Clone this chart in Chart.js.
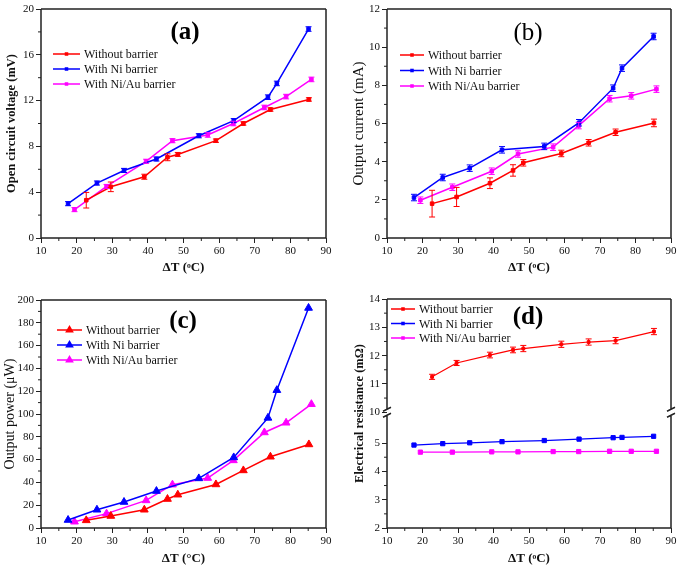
<!DOCTYPE html>
<html>
<head>
<meta charset="utf-8">
<script src="https://cdn.jsdelivr.net/npm/chart.js@4.4.0/dist/chart.umd.min.js"></script>
<style>
body { margin: 0; background: #fff; }
.p { position: absolute; }
</style>
</head>
<body>
<div class="p" style="left:0;top:0"><canvas id="ca" width="340" height="285"></canvas></div>
<div class="p" style="left:340px;top:0"><canvas id="cb" width="345" height="285"></canvas></div>
<div class="p" style="left:0;top:285px"><canvas id="cc" width="340" height="286"></canvas></div>
<div class="p" style="left:340px;top:285px"><canvas id="cd" width="345" height="286"></canvas></div>
<script>
var seriesNames = ['Without barrier', 'With Ni barrier', 'With Ni/Au barrier'];
var colors = ['#ff0000', '#0000ff', '#ff00ff'];

// delta T for each sample
var xNone = [22.7, 29.6, 39.0, 45.5, 48.4, 59.1, 66.8, 74.4, 85.2];
var xNi = [17.6, 25.7, 33.3, 42.4, 54.3, 64.1, 73.7, 76.2, 85.1];
var xNiAu = [19.4, 28.4, 39.5, 46.9, 56.8, 64.0, 72.7, 78.8, 85.9];

// (a) open circuit voltage, mV
var vocNone = [3.3, 4.47, 5.35, 7.05, 7.3, 8.5, 10.0, 11.22, 12.1];
var vocNoneErr = [0.68, 0.42, 0.22, 0.3, 0.17, 0.15, 0.15, 0.15, 0.15];
var vocNi = [3.0, 4.8, 5.9, 6.9, 8.93, 10.25, 12.3, 13.5, 18.25];
var vocNiErr = [0.18, 0.18, 0.18, 0.18, 0.18, 0.18, 0.2, 0.2, 0.2];
var vocNiAu = [2.48, 4.5, 6.7, 8.5, 9.0, 10.0, 11.4, 12.35, 13.85];
var vocNiAuErr = [0.18, 0.18, 0.18, 0.18, 0.2, 0.2, 0.2, 0.2, 0.2];

// (b) output current, mA
var curNone = [1.8, 2.15, 2.87, 3.54, 3.94, 4.43, 4.99, 5.54, 6.03];
var curNoneErr = [0.7, 0.5, 0.28, 0.3, 0.17, 0.17, 0.17, 0.17, 0.2];
var curNi = [2.12, 3.17, 3.66, 4.62, 4.8, 6.04, 7.85, 8.9, 10.56];
var curNiErr = [0.17, 0.17, 0.17, 0.17, 0.17, 0.17, 0.17, 0.17, 0.17];
var curNiAu = [1.98, 2.66, 3.5, 4.4, 4.76, 5.89, 7.3, 7.45, 7.8];
var curNiAuErr = [0.17, 0.17, 0.17, 0.17, 0.17, 0.17, 0.17, 0.17, 0.17];

// (c) output power, uW
var powNone = [6.7, 10.5, 16, 25.4, 29.2, 38.2, 50.5, 62.5, 73.3];
var powNi = [7.0, 16, 22.8, 32.4, 43.5, 61.9, 96.6, 120.9, 193];
var powNiAu = [5.5, 12.6, 24.2, 38, 43.8, 59.3, 83.8, 92.3, 108.6];

// (d) electrical resistance, mOhm
var resNone = [11.25, 11.74, 12.02, 12.2, 12.25, 12.4, 12.48, 12.53, 12.85];
var resNoneErr = [0.09, 0.09, 0.1, 0.1, 0.11, 0.11, 0.11, 0.11, 0.11];
var resNi = [4.93, 4.98, 5.01, 5.05, 5.09, 5.14, 5.19, 5.2, 5.24];
var resNiAu = [4.68, 4.68, 4.69, 4.69, 4.7, 4.7, 4.71, 4.71, 4.71];

// axis break in (d): 10..14 is shifted down to sit just above 5
var breakShift = 3.91;
function brk(v) { return v >= 10 ? v - breakShift : v; }

Chart.defaults.font.family = '"Liberation Serif", "Times New Roman", serif';
Chart.defaults.color = '#111';

function pts(xs, ys, f) {
  return xs.map(function (x, i) { return { x: x, y: f ? f(ys[i]) : ys[i] }; });
}

function ds(i, xs, ys, err, style, r, lw, f) {
  return {
    label: seriesNames[i],
    data: pts(xs, ys, f),
    err: err,
    borderColor: colors[i],
    backgroundColor: colors[i],
    borderWidth: lw,
    pointStyle: style,
    pointRadius: r,
    pointBorderWidth: 1,
    tension: 0
  };
}

function drawMark(ctx, style, r, x, y) {
  ctx.beginPath();
  if (style === 'triangle') {
    ctx.moveTo(x, y - r);
    ctx.lineTo(x + r * 0.87, y + r * 0.5);
    ctx.lineTo(x - r * 0.87, y + r * 0.5);
    ctx.closePath();
  } else {
    var s = r * 0.707;
    ctx.rect(x - s, y - s, 2 * s, 2 * s);
  }
  ctx.fill();
}

var framePlugin = {
  id: 'frame',
  afterDatasetsDraw: function (chart) {
    var ctx = chart.ctx, ys = chart.scales.y;
    chart.data.datasets.forEach(function (d, di) {
      if (!d.err) return;
      var meta = chart.getDatasetMeta(di);
      ctx.save();
      ctx.strokeStyle = d.borderColor;
      ctx.lineWidth = 1;
      meta.data.forEach(function (p, k) {
        var v = d.data[k].y, e = d.err[k];
        var y1 = ys.getPixelForValue(v - e), y2 = ys.getPixelForValue(v + e);
        ctx.beginPath();
        ctx.moveTo(p.x, y1); ctx.lineTo(p.x, y2);
        ctx.moveTo(p.x - 3, y1); ctx.lineTo(p.x + 3, y1);
        ctx.moveTo(p.x - 3, y2); ctx.lineTo(p.x + 3, y2);
        ctx.stroke();
      });
      ctx.restore();
    });
  },
  afterDraw: function (chart, args, o) {
    var ctx = chart.ctx, a = chart.chartArea;
    var xs = chart.scales.x, ys = chart.scales.y;
    ctx.save();
    ctx.strokeStyle = '#222';
    ctx.lineWidth = 1.5;
    ctx.beginPath();
    ctx.moveTo(a.left, a.bottom); ctx.lineTo(a.right, a.bottom);
    ctx.moveTo(a.left, a.top); ctx.lineTo(a.right, a.top);
    if (o.breakAt != null) {
      var by = ys.getPixelForValue(o.breakAt);
      [a.left, a.right].forEach(function (x) {
        ctx.moveTo(x, a.top); ctx.lineTo(x, by - 3);
        ctx.moveTo(x, by + 3); ctx.lineTo(x, a.bottom);
        ctx.moveTo(x - 4, by - 1); ctx.lineTo(x + 4, by - 5);
        ctx.moveTo(x - 4, by + 5); ctx.lineTo(x + 4, by + 1);
      });
    } else {
      ctx.moveTo(a.left, a.top); ctx.lineTo(a.left, a.bottom);
      ctx.moveTo(a.right, a.top); ctx.lineTo(a.right, a.bottom);
    }
    ctx.stroke();

    // minor ticks
    ctx.lineWidth = 1;
    ctx.beginPath();
    for (var v = 15; v < 90; v += 10) {
      var px = xs.getPixelForValue(v);
      ctx.moveTo(px, a.bottom); ctx.lineTo(px, a.bottom + 3);
    }
    o.minorY.forEach(function (m) {
      var py = ys.getPixelForValue(m);
      ctx.moveTo(a.left, py); ctx.lineTo(a.left - 3, py);
    });
    ctx.stroke();

    // legend
    var lg = o.legend;
    ctx.font = '12px "Liberation Serif", serif';
    ctx.textBaseline = 'middle';
    ctx.textAlign = 'left';
    chart.data.datasets.forEach(function (d, i) {
      var y = lg.y + i * lg.dy;
      ctx.strokeStyle = d.borderColor;
      ctx.fillStyle = d.borderColor;
      ctx.lineWidth = 1.5;
      ctx.beginPath();
      ctx.moveTo(lg.x, y); ctx.lineTo(lg.x + lg.len, y);
      ctx.stroke();
      drawMark(ctx, d.pointStyle, lg.r, lg.x + lg.len / 2, y);
      ctx.fillStyle = '#111';
      ctx.fillText(d.label, lg.x + lg.len + 4, y + 1);
    });

    // panel tag
    ctx.font = (o.tagBold ? 'bold ' : '') + '25px "Liberation Serif", serif';
    ctx.textAlign = 'center';
    ctx.fillStyle = '#000';
    ctx.fillText(o.tag, o.tagX, o.tagY);
    ctx.restore();
  }
};

function makePanel(id, cfg) {
  var c = document.getElementById(id);
  return new Chart(c.getContext('2d'), {
    type: 'line',
    data: { datasets: cfg.datasets },
    options: {
      responsive: false,
      animation: false,
      devicePixelRatio: 1,
      layout: { padding: { left: 0, top: cfg.top, right: cfg.right, bottom: 0 } },
      plugins: {
        legend: { display: false },
        tooltip: { enabled: false },
        frame: cfg.frame
      },
      scales: {
        x: {
          type: 'linear', min: 10, max: 90,
          ticks: { stepSize: 10, font: { size: 11 }, padding: 2 },
          grid: { drawOnChartArea: false, tickLength: 5, color: '#222' },
          border: { display: false },
          title: { display: true, text: cfg.xTitle, font: { size: 13, weight: 'bold' }, padding: { top: 0, bottom: cfg.xPad } },
          afterFit: function (s) { s.height = cfg.xH; }
        },
        y: {
          type: 'linear', min: cfg.yMin, max: cfg.yMax,
          ticks: Object.assign({ font: { size: 11 }, padding: 2 }, cfg.yTicks),
          afterBuildTicks: cfg.yBuild,
          grid: { drawOnChartArea: false, tickLength: 5, color: '#222' },
          border: { display: false },
          title: { display: true, text: cfg.yTitle, font: cfg.yFont, padding: { top: cfg.yPad, bottom: 0 } },
          afterFit: function (s) { s.width = cfg.yW; }
        }
      }
    },
    plugins: [framePlugin]
  });
}

makePanel('ca', {
  datasets: [
    ds(0, xNone, vocNone, vocNoneErr, 'rect', 2.5, 1.5),
    ds(1, xNi, vocNi, vocNiErr, 'rect', 2.5, 1.5),
    ds(2, xNiAu, vocNiAu, vocNiAuErr, 'rect', 2.5, 1.5)
  ],
  top: 9, right: 14, xH: 47, yW: 41, xPad: 10, yPad: 4,
  yMin: 0, yMax: 20, yTicks: { stepSize: 4 },
  xTitle: 'ΔT (ᵒC)', yTitle: 'Open circuit voltage (mV)',
  yFont: { size: 12.5, weight: 'bold' },
  frame: {
    minorY: [2, 6, 10, 14, 18],
    legend: { x: 53, y: 54, dy: 15, len: 27, r: 2.5 },
    tag: '(a)', tagBold: true, tagX: 185, tagY: 33
  }
});

makePanel('cb', {
  datasets: [
    ds(0, xNone, curNone, curNoneErr, 'rect', 2.5, 1.5),
    ds(1, xNi, curNi, curNiErr, 'rect', 2.5, 1.5),
    ds(2, xNiAu, curNiAu, curNiAuErr, 'rect', 2.5, 1.5)
  ],
  top: 9, right: 14, xH: 47, yW: 47, xPad: 10, yPad: 10,
  yMin: 0, yMax: 12, yTicks: { stepSize: 2 },
  xTitle: 'ΔT (ᵒC)', yTitle: 'Output current (mA)',
  yFont: { size: 15 },
  frame: {
    minorY: [1, 3, 5, 7, 9, 11],
    legend: { x: 60, y: 55, dy: 15.5, len: 24, r: 2.5 },
    tag: '(b)', tagBold: false, tagX: 188, tagY: 33
  }
});

makePanel('cc', {
  datasets: [
    ds(0, xNone, powNone, null, 'triangle', 4.5, 1.5),
    ds(1, xNi, powNi, null, 'triangle', 4.5, 1.5),
    ds(2, xNiAu, powNiAu, null, 'triangle', 4.5, 1.5)
  ],
  top: 15, right: 14, xH: 43, yW: 41, xPad: 5, yPad: 2,
  yMin: 0, yMax: 200, yTicks: { stepSize: 20 },
  xTitle: 'ΔT (°C)', yTitle: 'Output power (μW)',
  yFont: { size: 14 },
  frame: {
    minorY: [10, 30, 50, 70, 90, 110, 130, 150, 170, 190],
    legend: { x: 57, y: 45, dy: 15, len: 25, r: 5 },
    tag: '(c)', tagBold: true, tagX: 183, tagY: 37
  }
});

makePanel('cd', {
  datasets: [
    ds(0, xNone, resNone, resNoneErr, 'rect', 2, 1.2, brk),
    ds(1, xNi, resNi, null, 'rect', 3, 1.2),
    ds(2, xNiAu, resNiAu, null, 'rect', 3, 1.2)
  ],
  top: 14, right: 14, xH: 43, yW: 47, xPad: 5, yPad: 12,
  yMin: 2, yMax: 14 - breakShift,
  yTicks: { callback: function (v) { return v > 6 ? Math.round(v + breakShift) : v; } },
  yBuild: function (s) {
    s.ticks = [2, 3, 4, 5, 10, 11, 12, 13, 14].map(function (v) { return { value: brk(v) }; });
  },
  xTitle: 'ΔT (ᵒC)', yTitle: 'Electrical resistance (mΩ)',
  yFont: { size: 12.5, weight: 'bold' },
  frame: {
    breakAt: brk(10),
    minorY: [2.5, 3.5, 4.5, brk(10.5), brk(11.5), brk(12.5), brk(13.5)],
    legend: { x: 51, y: 24, dy: 14.5, len: 24, r: 2.5 },
    tag: '(d)', tagBold: true, tagX: 188, tagY: 33
  }
});
</script>
</body>
</html>
